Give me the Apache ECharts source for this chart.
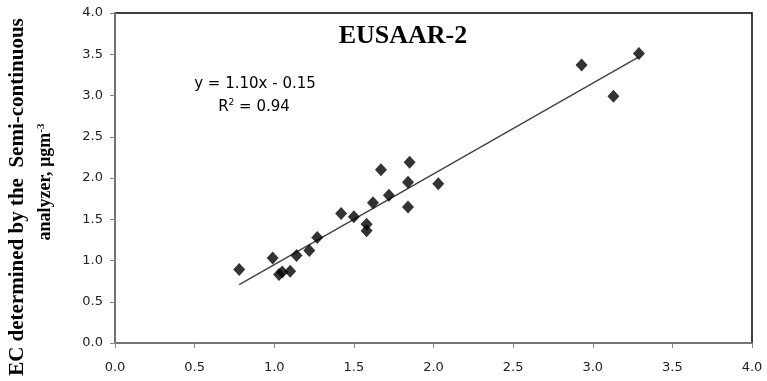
<!DOCTYPE html>
<html>
<head>
<meta charset="utf-8">
<script src="https://cdn.jsdelivr.net/npm/echarts@6/dist/echarts.min.js"></script>
<style>
  html, body { margin: 0; padding: 0; background: #fff; }
  #chart { width: 767px; height: 381px; }
</style>
</head>
<body>
<div id="chart"></div>
<script>
// Thermal-optical EC (EUSAAR-2) vs semi-continuous analyzer EC
const xValues = [0.78, 0.99, 1.03, 1.05, 1.10, 1.14, 1.22, 1.27, 1.42, 1.50, 1.58, 1.58, 1.62, 1.67, 1.72, 1.84, 1.85, 1.84, 2.03, 2.93, 3.13, 3.29];
const yValues = [0.89, 1.03, 0.83, 0.86, 0.87, 1.06, 1.12, 1.28, 1.57, 1.53, 1.44, 1.36, 1.70, 2.10, 1.79, 1.95, 2.19, 1.65, 1.93, 3.37, 2.99, 3.51];
const tickLabels = ['0.0', '0.5', '1.0', '1.5', '2.0', '2.5', '3.0', '3.5', '4.0'];

// Linear fit shown on the chart
const slope = 1.10;
const intercept = -0.15;
const rSquared = 0.94;

const points = xValues.map((x, i) => [x, yValues[i]]);
const xMin = Math.min(...xValues);
const xMax = Math.max(...xValues);
const fitLine = [[xMin, slope * xMin + intercept], [xMax, slope * xMax + intercept]];

const chart = echarts.init(document.getElementById('chart'), null, { renderer: 'canvas' });

const tickFont = { fontFamily: 'DejaVu Sans', fontSize: 13, color: '#222' };

chart.setOption({
  animation: false,
  backgroundColor: '#fff',
  grid: {
    left: 115, right: 15, top: 13, bottom: 38,
    show: true, borderColor: '#000', borderWidth: 1.5, backgroundColor: 'transparent'
  },
  title: {
    text: 'EUSAAR-2',
    left: 398, top: 18, textAlign: 'center',
    textStyle: { fontFamily: 'Liberation Serif', fontWeight: 'bold', fontSize: 26, color: '#000' }
  },
  xAxis: {
    type: 'value', min: 0, max: 4, interval: 0.5,
    axisLine: { show: true, lineStyle: { color: '#868686', width: 1.5 } },
    axisTick: { show: true, inside: false, length: 5, lineStyle: { color: '#868686' } },
    splitLine: { show: false },
    axisLabel: Object.assign({ margin: 18, formatter: (v) => tickLabels[Math.round(v / 0.5)] }, tickFont)
  },
  yAxis: {
    type: 'value', min: 0, max: 4, interval: 0.5,
    axisLine: { show: true, lineStyle: { color: '#868686', width: 1.5 } },
    axisTick: { show: true, inside: false, length: 5, lineStyle: { color: '#868686' } },
    splitLine: { show: false },
    axisLabel: Object.assign({ margin: 12, formatter: (v) => tickLabels[Math.round(v / 0.5)] }, tickFont)
  },
  graphic: [
    {
      type: 'text', x: 18, y: 197, rotation: Math.PI / 2,
      style: {
        text: 'EC determined by the  Semi-continuous',
        font: 'bold 21px "Liberation Serif"', fill: '#000',
        align: 'center', verticalAlign: 'middle'
      }
    },
    {
      type: 'text', x: 45, y: 182, rotation: Math.PI / 2,
      style: {
        text: '{n|analyzer, µgm}{s|-3}',
        rich: {
          n: { font: 'bold 18px "Liberation Serif"', fill: '#000' },
          s: { font: 'bold 11px "Liberation Serif"', fill: '#000', verticalAlign: 'top', padding: [0, 0, 8, 0] }
        },
        align: 'center', verticalAlign: 'middle'
      }
    },
    {
      type: 'text', x: 255, y: 84,
      style: {
        text: 'y = ' + slope.toFixed(2) + 'x - ' + Math.abs(intercept).toFixed(2),
        font: '15px "DejaVu Sans"', fill: '#000', align: 'center', verticalAlign: 'middle'
      }
    },
    {
      type: 'text', x: 254, y: 107,
      style: {
        text: '{n|R}{s|2}{n| = ' + rSquared.toFixed(2) + '}',
        rich: {
          n: { font: '15px "DejaVu Sans"', fill: '#000' },
          s: { font: '9px "DejaVu Sans"', fill: '#000', verticalAlign: 'top', padding: [0, 0, 8, 0] }
        },
        align: 'center', verticalAlign: 'middle'
      }
    }
  ],
  series: [
    {
      type: 'line', data: fitLine, showSymbol: false, symbol: 'none',
      lineStyle: { color: '#444', width: 1.5 }, z: 2, silent: true
    },
    {
      type: 'scatter', data: points, symbol: 'diamond', symbolSize: [12, 13],
      itemStyle: { color: '#000' }, z: 3
    }
  ]
});
</script>
</body>
</html>
